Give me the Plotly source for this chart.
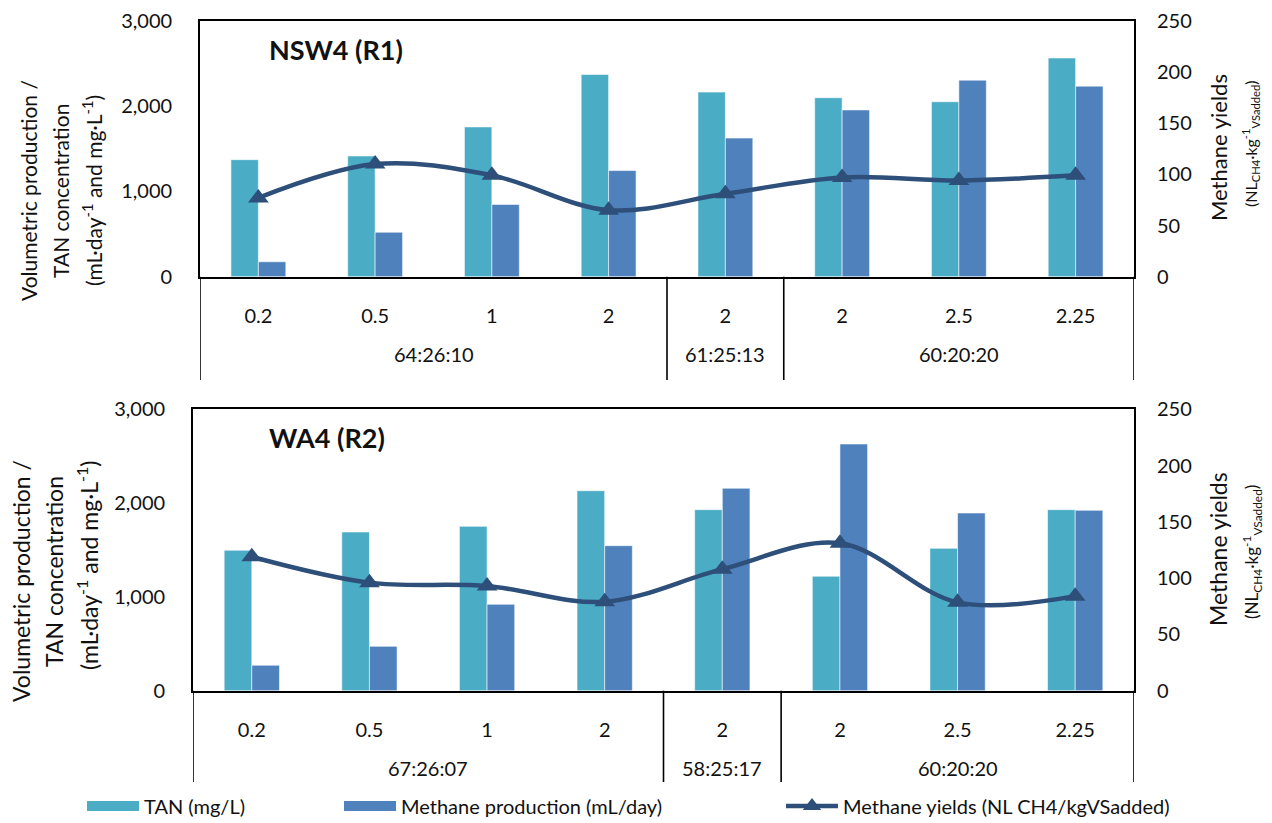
import plotly.graph_objects as go

# ---------------- data ----------------
loading_r1 = ["0.2", "0.5", "1", "2", "2", "2", "2.5", "2.25"]
groups_r1 = ["64:26:10", "61:25:13", "60:20:20"]
group_sizes_r1 = [4, 1, 3]
tan_r1 = [1372, 1415, 1756, 2370, 2164, 2098, 2051, 2564]
ch4_prod_r1 = [175, 521, 847, 1244, 1625, 1955, 2304, 2234]
ch4_yield_r1 = [77, 110, 99, 65, 81, 97, 94, 99]

loading_r2 = ["0.2", "0.5", "1", "2", "2", "2", "2.5", "2.25"]
groups_r2 = ["67:26:07", "58:25:17", "60:20:20"]
group_sizes_r2 = [4, 1, 3]
tan_r2 = [1497, 1692, 1752, 2132, 1930, 1220, 1518, 1930]
ch4_prod_r2 = [271, 473, 921, 1546, 2158, 2630, 1894, 1923]
ch4_yield_r2 = [119, 96, 93, 79, 108, 131, 78.5, 84]

panel_titles = ["NSW4 (R1)", "WA4 (R2)"]
series_names = ["TAN (mg/L)", "Methane production (mL/day)",
                "Methane yields (NL CH4/kgVSadded)"]

# ---------------- style ----------------
OFF = 8                     # page body margin
W, H = 1272 - OFF, 823 - OFF
FONT = "Lato"
TXT = "#111111"
C_TAN = "#4BACC6"
C_CH4 = "#4F81BD"
C_LINE = "#2D4F79"


def px_x(p):
    return (p - OFF) / W


def px_y(p):
    return 1 - (p - OFF) / H


fig = go.Figure()

panels = [
    dict(loading=loading_r1, groups=groups_r1, sizes=group_sizes_r1,
         tan=tan_r1, ch4=ch4_prod_r1, yld=ch4_yield_r1,
         x0=200, x1=1134, ytop=20.8, ybot=276.7, yline_end=380, ygroup=354,
         xa="x", ya="y", ya2="y2", showleg=True,
         title_xy=(336, 49),
         ltitle=[(28, 191, 21), (60, 191, 21), (92, 190, 21)],
         rtitle=[(1218, 148, 22), (1250, 144, 16)]),
    dict(loading=loading_r2, groups=groups_r2, sizes=group_sizes_r2,
         tan=tan_r2, ch4=ch4_prod_r2, yld=ch4_yield_r2,
         x0=193, x1=1134, ytop=409.3, ybot=690.7, yline_end=782, ygroup=768,
         xa="x2", ya="y3", ya2="y4", showleg=False,
         title_xy=(327, 438),
         ltitle=[(21, 581, 23), (54, 572, 23), (87, 566, 23)],
         rtitle=[(1218, 549, 23), (1252, 552, 17)]),
]

left_title_lines = ["Volumetric production /", "TAN concentration",
                    "(mL·day<sup>-1</sup> and mg·L<sup>-1</sup>)"]
right_title_lines = ["Methane yields",
                     "(NL<sub>CH4</sub>·kg<sup>-1</sup><sub>VSadded</sub>)"]

shapes = []
annotations = []
layout_axes = {}

for k, p in enumerate(panels):
    idx = list(range(len(p["loading"])))
    fig.add_trace(go.Bar(
        x=idx, y=p["tan"], name=series_names[0], xaxis=p["xa"], yaxis=p["ya"],
        marker=dict(color=C_TAN, line=dict(color="rgba(255,255,255,0.55)", width=1)),
        showlegend=False))
    fig.add_trace(go.Bar(
        x=idx, y=p["ch4"], name=series_names[1], xaxis=p["xa"], yaxis=p["ya"],
        marker=dict(color=C_CH4, line=dict(color="rgba(255,255,255,0.55)", width=1)),
        showlegend=False))
    fig.add_trace(go.Scatter(
        x=idx, y=p["yld"], name=series_names[2], xaxis=p["xa"], yaxis=p["ya2"],
        mode="lines+markers",
        line=dict(color=C_LINE, width=4.5, shape="spline", smoothing=1),
        marker=dict(symbol="triangle-up", size=18, color=C_LINE),
        showlegend=p["showleg"], legend="legend3"))

    xdom = [px_x(p["x0"]), px_x(p["x1"])]
    ydom = [px_y(p["ybot"]), px_y(p["ytop"])]
    xkey = "xaxis" if p["xa"] == "x" else "xaxis" + p["xa"][1:]
    ykey = "yaxis" if p["ya"] == "y" else "yaxis" + p["ya"][1:]
    y2key = "yaxis" + p["ya2"][1:]

    layout_axes[xkey] = dict(
        domain=xdom, anchor=p["ya"], range=[-0.5, len(idx) - 0.5],
        tickmode="array", tickvals=idx, ticktext=p["loading"],
        showline=True, linecolor="black", linewidth=2.2, mirror=True,
        ticks="", showgrid=False, zeroline=False,
        tickfont=dict(family=FONT, size=20, color=TXT), ticklabelstandoff=20)
    layout_axes[ykey] = dict(
        domain=ydom, anchor=p["xa"], range=[0, 3000], dtick=1000,
        tickformat=",", showline=True, linecolor="black", linewidth=1.6,
        mirror=True, ticks="", showgrid=False, zeroline=False,
        ticklabeloverflow="allow",
        tickfont=dict(family=FONT, size=20, color=TXT), ticklabelstandoff=22)
    layout_axes[y2key] = dict(
        overlaying=p["ya"], side="right", anchor=p["xa"], range=[0, 250],
        dtick=50, showline=False, ticks="", showgrid=False, zeroline=False,
        ticklabeloverflow="allow",
        tickfont=dict(family=FONT, size=20, color=TXT), ticklabelstandoff=22)

    # category group dividers and group labels
    bounds = [-0.5]
    for s in p["sizes"]:
        bounds.append(bounds[-1] + s)
    for b in bounds:
        shapes.append(dict(type="line", xref=p["xa"], yref="paper",
                           x0=b, x1=b, y0=px_y(p["yline_end"]), y1=px_y(p["ybot"]),
                           line=dict(color="black", width=1.6)))
    for g, lab in enumerate(p["groups"]):
        annotations.append(dict(
            x=(bounds[g] + bounds[g + 1]) / 2, y=px_y(p["ygroup"]),
            xref=p["xa"], yref="paper", text=lab, showarrow=False,
            xanchor="center", yanchor="middle",
            font=dict(family=FONT, size=20, color=TXT)))

    # panel title
    annotations.append(dict(
        x=px_x(p["title_xy"][0]), y=px_y(p["title_xy"][1]), xref="paper",
        yref="paper", text="<b>%s</b>" % panel_titles[k], showarrow=False,
        xanchor="center", yanchor="middle",
        font=dict(family=FONT, size=27, color=TXT)))

    # axis titles
    for (lx, ly, fs), t in zip(p["ltitle"], left_title_lines):
        annotations.append(dict(
            x=px_x(lx), y=px_y(ly), xref="paper", yref="paper", text=t,
            showarrow=False, textangle=-90, xanchor="center", yanchor="middle",
            font=dict(family=FONT, size=fs, color=TXT)))
    for (rx, ry, fs), t in zip(p["rtitle"], right_title_lines):
        annotations.append(dict(
            x=px_x(rx), y=px_y(ry), xref="paper", yref="paper", text=t,
            showarrow=False, textangle=-90, xanchor="center", yanchor="middle",
            font=dict(family=FONT, size=fs, color=TXT)))

# legend entries for the bar series drawn as wide colour swatches
for nm, col, lg in [(series_names[0], C_TAN, "legend"),
                    (series_names[1], C_CH4, "legend2")]:
    fig.add_trace(go.Scatter(
        x=[None], y=[None], mode="lines", name=nm, legend=lg,
        line=dict(color=col, width=14), xaxis="x", yaxis="y",
        hoverinfo="skip", showlegend=True))

leg_common = dict(orientation="h", yanchor="middle", xanchor="left",
                  y=px_y(806), bgcolor="rgba(0,0,0,0)", itemwidth=52,
                  borderwidth=0, tracegroupgap=0,
                  font=dict(family=FONT, size=20, color=TXT))

fig.update_layout(
    width=W, height=H,
    margin=dict(l=0, r=0, t=0, b=0, pad=0, autoexpand=False),
    paper_bgcolor="white", plot_bgcolor="white",
    barmode="group", bargap=0.53, bargroupgap=0,
    shapes=shapes, annotations=annotations,
    legend=dict(x=px_x(82), **leg_common),
    legend2=dict(x=px_x(339), **leg_common),
    legend3=dict(x=px_x(781), **leg_common),
    **layout_axes,
)

fig.write_html("out.html")
